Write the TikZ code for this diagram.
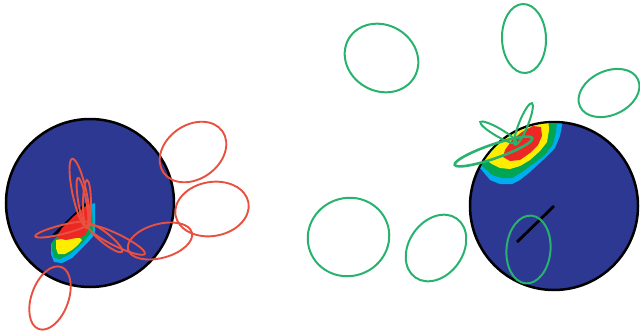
\documentclass[tikz,border=0pt]{standalone}
\usetikzlibrary{shapes.geometric}
\definecolor{disk}{RGB}{44,56,146}
\definecolor{hred}{RGB}{236,40,36}
\definecolor{hyel}{RGB}{255,237,0}
\definecolor{hgrn}{RGB}{0,166,81}
\definecolor{hcyan}{RGB}{0,174,239}
\definecolor{ered}{RGB}{232,80,64}
\definecolor{egrn}{RGB}{40,178,110}
\tikzset{
  disc/.style={circle, draw=black, line width=2.5pt, fill=disk, minimum size=168pt, inner sep=0pt},
  rell/.style={ellipse, draw=ered, line width=1.9pt, inner sep=0pt, outer sep=0pt},
  gell/.style={ellipse, draw=egrn, line width=2pt, inner sep=0pt, outer sep=0pt},
  tick/.style={draw=black, line width=2.8pt},
}
\begin{document}
\begin{tikzpicture}[x=1pt,y=-1pt]
\useasboundingbox (0,0) rectangle (640,335);
% discs
\node[disc] (L) at (90,203) {};
\node[disc] (R) at (554,206) {};
% left hotspot
\fill[hcyan] (51,244)--(56,238)--(86,206)--(95,203)--(95,234)--(88,242)--(80,250)--(72,258)--(62,263)--(54,262)--(51,254)--cycle;
\fill[hgrn] (52,242)--(57,237)--(87,207)--(92,205)--(93,230)--(86,239)--(78,247)--(70,254)--(60,259)--(54,258)--(52,250)--cycle;
\fill[hyel] (56,240)--(68,238)--(80,238)--(82,240)--(78,245)--(72,250)--(65,254)--(58,254)--(56,248)--cycle;
\coordinate (lb1) at (53,236);
\coordinate (lb2) at (86,204);
\draw[tick] (lb1) -- (lb2);
\fill[hred] (56,238)--(62,228)--(72,218)--(80,211)--(87,205)--(91,208)--(91,222)--(88,230)--(84,236)--(76,238)--(66,240)--cycle;
% right hotspot
\begin{scope}
\clip (554,206) circle (82.8);
\fill[hcyan] (480,168)--(490,180)--(500,184)--(512,184)--(520,180)--(530,172)--(543,160)--(555,148)--(560,136)--(563,120)--(563,100)--(470,100)--(470,165)--cycle;
\fill[hgrn] (482,166)--(492,175)--(502,178)--(512,178)--(522,172)--(533,164)--(545,155)--(553,144)--(556,132)--(557,120)--(557,100)--(470,100)--(470,162)--cycle;
\fill[hyel] (486,160)--(492,164)--(500,168)--(510,169)--(520,166)--(530,160)--(540,151)--(547,142)--(549,130)--(548,115)--(470,100)--(470,155)--cycle;
\fill[hred] (503,157)--(510,161)--(520,160)--(530,153)--(538,145)--(542,136)--(541,127)--(533,126)--(522,132)--(512,140)--(505,150)--cycle;
\end{scope}
\coordinate (rb1) at (517,242);
\coordinate (rb2) at (554,206);
\draw[tick] (rb1) -- (rb2);
% red ellipses (left)
\node[rell, minimum width=72pt, minimum height=54pt, rotate=35] (r1) at (193,152) {};
\node[rell, minimum width=74pt, minimum height=54pt, rotate=10] (r2) at (212,209) {};
\node[rell, minimum width=66pt, minimum height=34pt, rotate=15] (r3) at (160,241) {};
\node[rell, minimum width=66pt, minimum height=37pt, rotate=70] (r4) at (50,298) {};
\node[rell, minimum width=70pt, minimum height=14pt, rotate=102] (r5) at (79.5,193) {};
\node[rell, minimum width=51pt, minimum height=8pt, rotate=100] (r6) at (82.5,203) {};
\node[rell, minimum width=48pt, minimum height=8pt, rotate=90] (r7) at (87,204) {};
\node[rell, minimum width=56pt, minimum height=9pt, rotate=14] (r8) at (62.5,229.5) {};
\node[rell, minimum width=44pt, minimum height=10pt, rotate=-39] (r9) at (105,238) {};
\node[rell, minimum width=63pt, minimum height=12pt, rotate=-26] (r10) at (116.5,240) {};
% green ellipses (right)
\node[gell, minimum width=76pt, minimum height=66pt, rotate=-30] (g1) at (381.5,58) {};
\node[gell, minimum width=69pt, minimum height=44pt, rotate=92] (g2) at (524,38.5) {};
\node[gell, minimum width=64pt, minimum height=44pt, rotate=25] (g3) at (609,93) {};
\node[gell, minimum width=82pt, minimum height=78pt, rotate=20] (g4) at (348.5,237) {};
\node[gell, minimum width=72pt, minimum height=54pt, rotate=55] (g5) at (436,248) {};
\node[gell, minimum width=68pt, minimum height=44pt, rotate=85] (g6) at (528.5,249.5) {};
\node[gell, line width=2.6pt, minimum width=82pt, minimum height=14pt, rotate=19] (g7) at (493.5,151.5) {};
\node[gell, minimum width=42pt, minimum height=8pt, rotate=-30] (g8) at (498.5,132.5) {};
\node[gell, minimum width=45pt, minimum height=9pt, rotate=68] (g9) at (523.5,124) {};
\end{tikzpicture}
\end{document}
